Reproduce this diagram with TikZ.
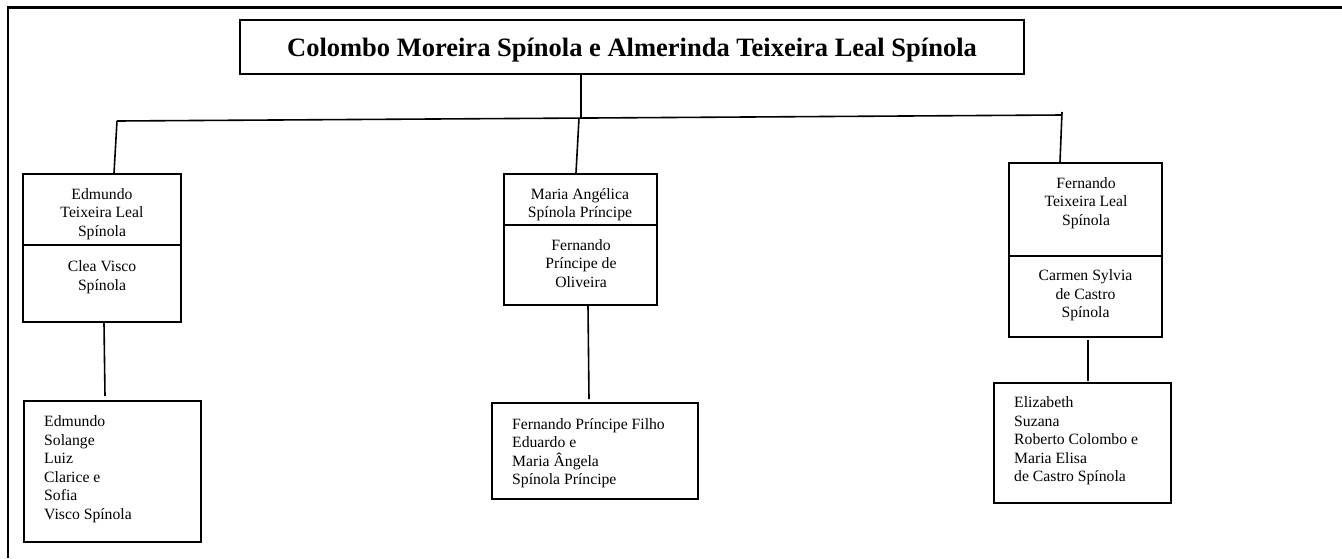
\documentclass[tikz,border=0pt]{standalone}
\usepackage{fontspec}
\setmainfont{Liberation Serif}
\begin{document}
\begin{tikzpicture}[x=1pt,y=-1pt,
  box/.style={draw,line width=2pt,inner sep=0pt},
  link/.style={line width=1.6pt},
  ctext/.style={align=center,anchor=base,inner sep=0pt,font=\fontsize{15.7}{18.5}\selectfont},
  ltext/.style={align=left,anchor=base west,inner sep=0pt,font=\fontsize{15.7}{18.5}\selectfont}]
\useasboundingbox (0,0) rectangle (1342,558);
% page frame
\draw[line width=2.2pt] (8,558) -- (8,7.5) -- (1342,7.5);
% title
\node[box,minimum width=784,minimum height=54] (title) at (632,47) {};
\node[anchor=base,inner sep=0pt,font=\fontsize{26.5}{30}\selectfont\bfseries] (ttitle) at (632,56)
  {Colombo Moreira Spínola e Almerinda Teixeira Leal Spínola};
% boxes
\node[box,minimum width=158,minimum height=71] (LU) at (102,209.5) {};
\node[box,minimum width=158,minimum height=77] (LL) at (102,283.5) {};
\node[box,minimum width=153,minimum height=51] (MU) at (580.5,199.5) {};
\node[box,minimum width=153,minimum height=80] (ML) at (580.5,265) {};
\node[box,minimum width=153,minimum height=93] (RU) at (1085.5,209.5) {};
\node[box,minimum width=153,minimum height=81] (RL) at (1085.5,296.5) {};
\node[box,minimum width=177,minimum height=141] (LB) at (112.5,471.5) {};
\node[box,minimum width=206,minimum height=96] (MB) at (595,451) {};
\node[box,minimum width=177,minimum height=120] (RB) at (1082.5,443) {};
% texts (anchored at the baseline of their last line)
\node[ctext] (tLU) at (102,236) {Edmundo\\Teixeira Leal\\Spínola};
\node[ctext] (tLL) at (102,290) {Clea Visco\\Spínola};
\node[ctext] (tMU) at (580,217.5) {Maria Angélica\\Spínola Príncipe};
\node[ctext] (tML) at (581,287) {Fernando\\Príncipe de\\Oliveira};
\node[ctext] (tRU) at (1086,225) {Fernando\\Teixeira Leal\\Spínola};
\node[ctext] (tRL) at (1085.5,317.5) {Carmen Sylvia\\de Castro\\Spínola};
\node[ltext] (tLB) at (44,519.2) {Edmundo\\Solange\\Luiz\\Clarice e\\Sofia\\Visco Spínola};
\node[ltext] (tMB) at (512,484.5) {Fernando Príncipe Filho\\Eduardo e\\Maria Ângela\\Spínola Príncipe};
\node[ltext] (tRB) at (1014,481.7) {Elizabeth\\Suzana\\Roberto Colombo e\\Maria Elisa\\de Castro Spínola};
% bar
\coordinate (barL) at (117,121);
\coordinate (barR) at (1062,115);
\coordinate (barM) at (581,118);
\coordinate (barC) at (579,118.1);
\coordinate (barRt) at (1062,112);
\draw[link] (barL) -- (barR);
\draw[link] (title.south -| barM) -- (barM);
\draw[link] (barL) -- ([xshift=92pt]LU.north west);
\draw[link] (barC) -- ([xshift=73pt]MU.north west);
\draw[link] (barRt) -- ([xshift=52pt]RU.north west);
% children
\draw[link] ([xshift=82pt]LL.south west) -- ([xshift=82pt,yshift=4pt]LB.north west);
\draw[link] ([xshift=85pt]ML.south west) -- ([xshift=98pt,yshift=3pt]MB.north west);
\draw[link] ([xshift=80pt,yshift=-2pt]RL.south west) -- ([xshift=95pt,yshift=1pt]RB.north west);
\end{tikzpicture}
\end{document}
